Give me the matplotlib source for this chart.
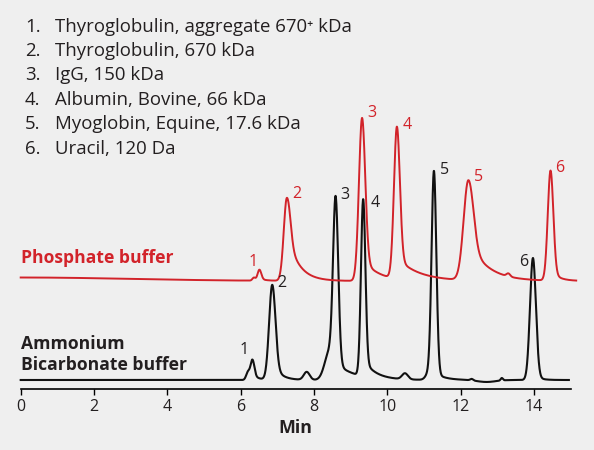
import numpy as np
import matplotlib.pyplot as plt

plt.rcParams['font.family'] = ['Open Sans', 'DejaVu Sans']

# Peak table (retention time in min, height, width, tailing)
# first entry of the red trace is the slow baseline drift at the start of the run
red_rt = [0.0, 6.36, 6.51, 7.26, 9.31, 10.26, 12.21, 13.30, 14.45]
red_height = [3.5, 3, 11, 83, 163, 152, 100, 3, 110]
red_sigma = [3.0, 0.04, 0.05, 0.085, 0.085, 0.08, 0.13, 0.05, 0.075]
red_tail = [0.0, 0.0, 0.2, 0.6, 0.14, 0.14, 0.4, 0.0, 0.1]
red_tau = [0.1, 0.1, 0.15, 0.3, 0.42, 0.6, 0.5, 0.1, 0.2]
red_offset = 99

black_rt = [6.20, 6.32, 6.86, 7.80, 8.42, 8.59, 9.34, 10.48, 11.12, 11.27, 12.30, 12.70, 13.12, 13.97]
black_height = [8, 20, 95, 8, 28, 172, 177, 6, 6, 208, 1.5, -2, 2.5, 122]
black_sigma = [0.05, 0.05, 0.085, 0.08, 0.13, 0.07, 0.06, 0.08, 0.08, 0.065, 0.04, 0.25, 0.03, 0.08]
black_tail = [0.0, 0.3, 0.2, 0.0, 0.0, 0.1, 0.1, 0.0, 0.0, 0.04, 0.0, 0.0, 0.0, 0.05]
black_tau = [0.1, 0.15, 0.2, 0.1, 0.1, 0.5, 0.3, 0.1, 0.1, 0.25, 0.1, 0.1, 0.1, 0.15]

# peak number labels
red_lbl_t = [6.34, 7.53, 9.57, 10.53, 12.48, 14.71]
red_lbl_y = [118, 186, 267, 255, 203, 212]
black_lbl_t = [6.10, 7.12, 8.83, 9.68, 11.55, 13.71]
black_lbl_y = [30, 97, 185, 177, 210, 118]
peak_names = ['1', '2', '3', '4', '5', '6']

compounds = ['Thyroglobulin, aggregate 670⁺ kDa',
             'Thyroglobulin, 670 kDa',
             'IgG, 150 kDa',
             'Albumin, Bovine, 66 kDa',
             'Myoglobin, Equine, 17.6 kDa',
             'Uracil, 120 Da']

RED = '#d2232a'
INK = '#231f20'
BG = '#efefef'


def trace(t, rt, h, s, f, tau):
    y = np.zeros_like(t)
    for t0, a, sg, ff, tt in zip(rt, h, s, f, tau):
        g = np.exp(-0.5 * ((t - t0) / sg) ** 2)
        tail = np.where(t > t0, np.exp(-np.clip(t - t0, 0, None) / tt), 0) * (1 - g)
        y += a * (g + ff * tail)
    return y


t_red = np.linspace(0, 15.15, 4000)
t_blk = np.linspace(0, 14.95, 4000)
y_red = red_offset + trace(t_red, red_rt, red_height, red_sigma, red_tail, red_tau)
y_blk = trace(t_blk, black_rt, black_height, black_sigma, black_tail, black_tau)

W, H = 594, 450
fig = plt.figure(figsize=(W / 100, H / 100), dpi=100, facecolor=BG)
ax = fig.add_axes([20.7 / W, 1 - 389 / H, 550 / W, 389 / H])
ax.patch.set_alpha(0)

ax.plot(t_blk, y_blk, color='#111111', lw=1.5, clip_on=False)
ax.plot(t_red, y_red, color=RED, lw=1.4, clip_on=False)

for x, y, s in zip(red_lbl_t, red_lbl_y, peak_names):
    ax.text(x, y, s, color=RED, fontsize=11.5, ha='center', va='center')
for x, y, s in zip(black_lbl_t, black_lbl_y, peak_names):
    ax.text(x, y, s, color=INK, fontsize=11.5, ha='center', va='center')

ax.set_xlim(0, 15)
ax.set_ylim(-9, 380)
ax.set_xticks(range(0, 15, 2))
ax.set_yticks([])
for side in ['left', 'right', 'top']:
    ax.spines[side].set_visible(False)
ax.spines['bottom'].set_linewidth(1.2)
ax.tick_params(axis='x', direction='out', length=4, width=1, labelsize=11.5, pad=3,
               labelcolor=INK)
ax.set_xlabel('Min', fontsize=12.8, fontweight='bold', labelpad=3, color=INK)


def px(x, y):
    return x / W, 1 - y / H


for i, name in enumerate(compounds):
    by = 31.5 + i * 24.4
    fig.text(*px(25, by), f'{i + 1}.', fontsize=13.4, va='baseline', color=INK)
    fig.text(*px(55, by), name, fontsize=13.4, va='baseline', color=INK)

fig.text(*px(21, 263), 'Phosphate buffer', fontsize=12.6, fontweight='bold',
         color=RED, va='baseline')
fig.text(*px(21, 349), 'Ammonium', fontsize=12.6, fontweight='bold', color=INK, va='baseline')
fig.text(*px(21, 370), 'Bicarbonate buffer', fontsize=12.6, fontweight='bold', color=INK, va='baseline')

fig.savefig('out.png', dpi=100, facecolor=BG)
